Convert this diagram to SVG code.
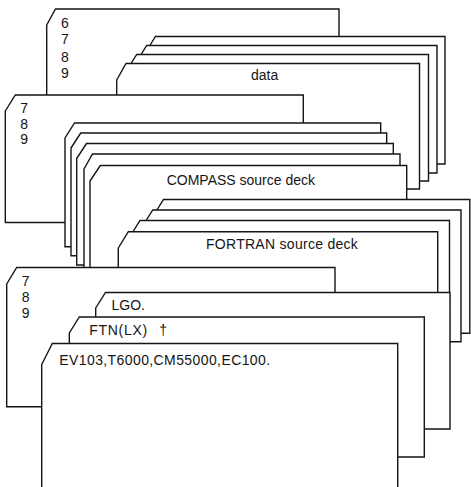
<svg xmlns="http://www.w3.org/2000/svg" width="471" height="487" viewBox="0 0 471 487">
<style>
.card{fill:#fff;stroke:#151515;stroke-width:1.4;stroke-linejoin:miter}
text{font-family:"Liberation Sans",Arial,sans-serif;font-size:14px;fill:#151515}
</style>
<rect width="471" height="487" fill="#fff"/>
<g id="card-6789">
<path class="card" d="M46.7,25 L55.5,9 L339,9 L339,150 L46.7,150 Z"/>
<text x="61" y="27.7">6</text><text x="61" y="44.3">7</text><text x="61" y="61.5">8</text><text x="61" y="78.3">9</text>
</g>
<g id="data-deck">
<path class="card" d="M145.5,52.5 L155.5,36.5 L445,36.5 L445,164 L145.5,164 Z"/>
<path class="card" d="M136.7,61.5 L146.7,45.5 L437,45.5 L437,173 L136.7,173 Z"/>
<path class="card" d="M126.7,70.5 L136.7,54.5 L428.5,54.5 L428.5,181 L126.7,181 Z"/>
<path class="card" d="M116.7,80 L126,63.5 L419.5,63.5 L419.5,189 L116.7,189 Z"/>
<text x="251" y="80">data</text>
</g>
<g id="card-789-a">
<path class="card" d="M5.3,111 L15.3,95 L303.3,95 L303.3,222.5 L5.3,222.5 Z"/>
<text x="20.3" y="112.8">7</text><text x="20.3" y="128.6">8</text><text x="20.3" y="144.4">9</text>
</g>
<g id="compass-deck">
<path class="card" d="M65,138 L74.5,123 L380.7,123 L380.7,246.7 L65,246.7 Z"/>
<path class="card" d="M71,148 L80.7,133 L386.7,133 L386.7,255.7 L71,255.7 Z"/>
<path class="card" d="M76.7,158.5 L86.5,143.5 L393.3,143.5 L393.3,265 L76.7,265 Z"/>
<path class="card" d="M84,169 L92.5,154 L400,154 L400,290 L84,290 Z"/>
<path class="card" d="M90,181 L100.3,165.5 L406.7,165.5 L406.7,300 L90,300 Z"/>
<text x="166.7" y="184.7">COMPASS source deck</text>
</g>
<g id="fortran-deck">
<path class="card" d="M153.5,215.5 L163.5,199.5 L469.8,199.5 L469.8,333.3 L153.5,333.3 Z"/>
<path class="card" d="M142.7,226 L152.7,210 L461,210 L461,341.7 L142.7,341.7 Z"/>
<path class="card" d="M130,236.5 L140,220.5 L449.5,220.5 L449.5,345 L130,345 Z"/>
<path class="card" d="M118.3,248 L128.3,231.7 L437.7,231.7 L437.7,320 L118.3,320 Z"/>
<text x="206" y="248.8" letter-spacing="0.28">FORTRAN source deck</text>
</g>
<g id="card-789-b">
<path class="card" d="M6.7,284 L16.7,267.5 L335,267.5 L335,406.7 L6.7,406.7 Z"/>
<text x="21.7" y="286">7</text><text x="21.7" y="301.8">8</text><text x="21.7" y="317.7">9</text>
</g>
<g id="card-lgo">
<path class="card" d="M95.7,308 L105.5,292.5 L450,292.5 L450,429 L95.7,429 Z"/>
<text x="111.5" y="310">LGO.</text>
</g>
<g id="card-ftn">
<path class="card" d="M69.3,333 L79.3,317 L424.3,317 L424.3,457 L69.3,457 Z"/>
<text x="89.3" y="335" letter-spacing="0.7">FTN(LX) <tspan x="159.3">†</tspan></text>
</g>
<g id="card-job">
<path class="card" d="M41.7,364.5 L52.3,343.5 L397.7,343.5 L397.7,489 L41.7,489 Z"/>
<text x="59.3" y="364.5" letter-spacing="0.4">EV103,T6000,CM55000,EC100.</text>
</g>
</svg>
